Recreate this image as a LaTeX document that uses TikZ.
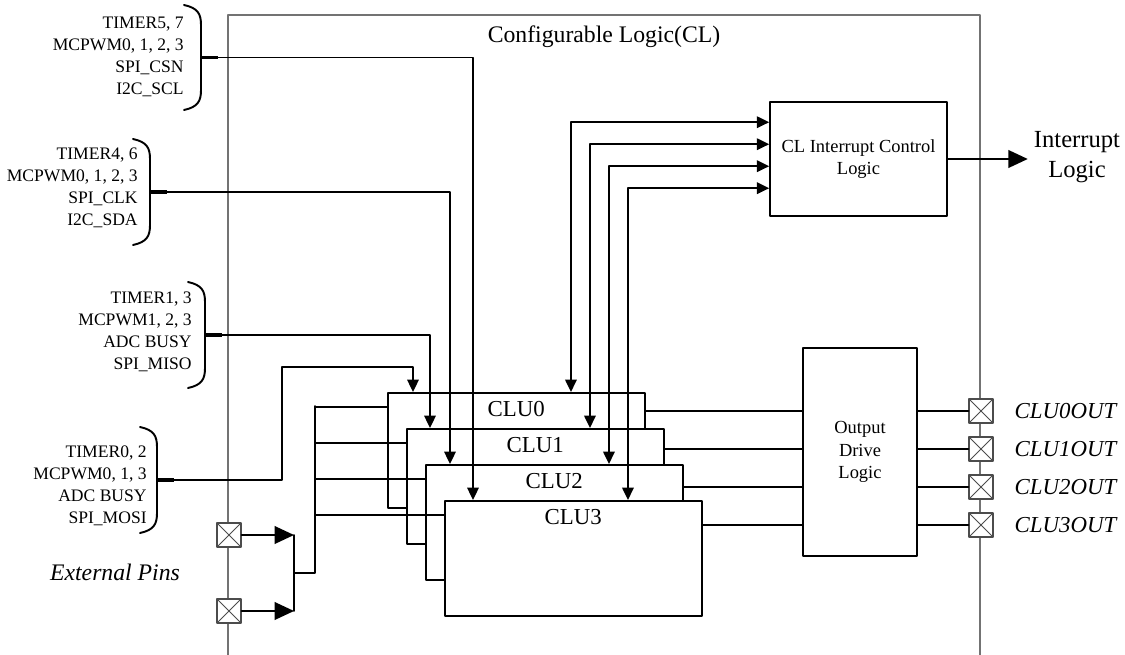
\documentclass[tikz,border=0pt]{standalone}
\usepackage{fontspec}
\setmainfont{Liberation Serif}
\usetikzlibrary{arrows.meta,positioning}

\begin{document}
\begin{tikzpicture}[x=0.02cm,y=-0.02cm,line cap=round,line join=round,
    >={Triangle[length=7pt,width=6.5pt]},
    frame/.style={draw=black!55,line width=0.8pt},
    blk/.style={draw,line width=0.9pt,fill=white,inner sep=2pt,align=center,
      font=\fontsize{10.5}{12.8}\selectfont},
    clu/.style={blk,minimum width=5.14cm,minimum height=2.3cm,anchor=north west},
    wire/.style={line width=1.1pt},
    big/.style={wire,-{Triangle[length=11pt,width=10pt]}},
    sigtxt/.style={font=\fontsize{10}{12.5}\selectfont,align=right,anchor=east,inner sep=0pt},
    pad/.style={draw=black!70,fill=white,line width=0.6pt,minimum size=0.48cm,inner sep=0pt,
      path picture={\draw[line width=0.5pt]
        (path picture bounding box.north west) -- (path picture bounding box.south east)
        (path picture bounding box.south west) -- (path picture bounding box.north east);}},
    outlbl/.style={font=\fontsize{13}{15}\selectfont\itshape}]
  \useasboundingbox (0,0) rectangle (1125,655);

  % CL frame, open at the bottom
  \draw[frame] (228,655) |- (980,15) -- (980,655);
  \node[font=\fontsize{13.5}{16}\selectfont] (title) at (604,37) {Configurable Logic(CL)};

  % CLU stack
  \foreach \i in {0,...,3}
    \node[clu,label={[anchor=north,yshift=-2pt,font=\fontsize{13}{15}\selectfont]north:CLU\i}]
      (clu\i) at ({387+19*\i},{392+36*\i}) {};

  \node[blk,minimum width=3.54cm,minimum height=2.28cm] (irq) at (858.5,159) {CL Interrupt Control\\Logic};
  \node[blk,minimum width=2.28cm,minimum height=4.16cm] (odl) at (860,452) {Output\\Drive\\Logic};
  \node[font=\fontsize{14}{17}\selectfont,align=center] (intl) at (1077,157) {Interrupt\\Logic};
  \draw[big] (irq.east) -- (irq.east -| intl.west);

  % signal groups on the left
  \node[sigtxt] (g5) at (184,57) {TIMER5, 7\\MCPWM0, 1, 2, 3\\SPI\_CSN\\I2C\_SCL};
  \node[sigtxt] (g4) at (138,188) {TIMER4, 6\\MCPWM0, 1, 2, 3\\SPI\_CLK\\I2C\_SDA};
  \node[sigtxt] (g1) at (192,332) {TIMER1, 3\\MCPWM1, 2, 3\\ADC BUSY\\SPI\_MISO};
  \node[sigtxt] (g0) at (147,486) {TIMER0, 2\\MCPWM0, 1, 3\\ADC BUSY\\SPI\_MOSI};
  \foreach \n/\bx/\ty/\by in {g5/201/5/110,g4/150/139/245,g1/205/282/388,g0/157/427/533} {
    \draw[wire] (\bx-17,\ty) .. controls (\bx-3,\ty+3) and (\bx,\ty+9) .. (\bx,\ty+20)
      -- (\bx,\by-20) .. controls (\bx,\by-9) and (\bx-3,\by-3) .. (\bx-17,\by);
    \draw[line width=2pt,line cap=butt] (\bx,{(\ty+\by)/2}) -- ++(17,0) coordinate (t\n);
  }
  \coordinate (bend) at (282,367);
  \draw[wire,->] (tg5) -| ([xshift=0.58cm]clu3.north west);
  \draw[wire,->] (tg4) -| ([xshift=0.5cm]clu2.north west);
  \draw[wire,->] (tg1) -| ([xshift=0.48cm]clu1.north west);
  \draw[wire,->] (tg0) -| (bend) -| ([xshift=0.52cm]clu0.north west);

  % interrupt lines
  \foreach \i in {0,...,3}
    \draw[wire,<->] ([xshift=3.68cm]clu\i.north west) |- ([yshift={-0.42cm-0.44cm*\i}]irq.north west);

  % external pins and input bus
  \node[pad] (ep0) at (229,535) {};
  \node[pad] (ep1) at (229,611) {};
  \node[outlbl,font=\fontsize{13.5}{16}\selectfont\itshape] (extl) at (115,572) {External Pins};
  \coordinate (jn) at (294,573);
  \coordinate (bus) at (315,406);
  \draw[big] (ep0.east) -- (ep0 -| jn);
  \draw[big] (ep1.east) -- (ep1 -| jn);
  \draw[wire] (ep0 -| jn) -- (ep1 -| jn);
  \draw[wire] (jn) -| (bus);
  \foreach \i in {0,...,3} {
    \coordinate (in\i) at ([yshift=-0.3cm]clu\i.north west);
    \draw[wire] (bus |- in\i) -- (in\i);
  }

  % outputs
  \foreach \i in {0,...,3} {
    \node[pad] (pin\i) at (981,{411+38*\i}) {};
    \node[outlbl,right=0.3cm of pin\i] (ol\i) {CLU\i OUT};
    \draw[wire] (pin\i -| clu\i.east) -- (pin\i -| odl.west);
    \draw[wire] (pin\i -| odl.east) -- (pin\i.west);
  }
\end{tikzpicture}
\end{document}
